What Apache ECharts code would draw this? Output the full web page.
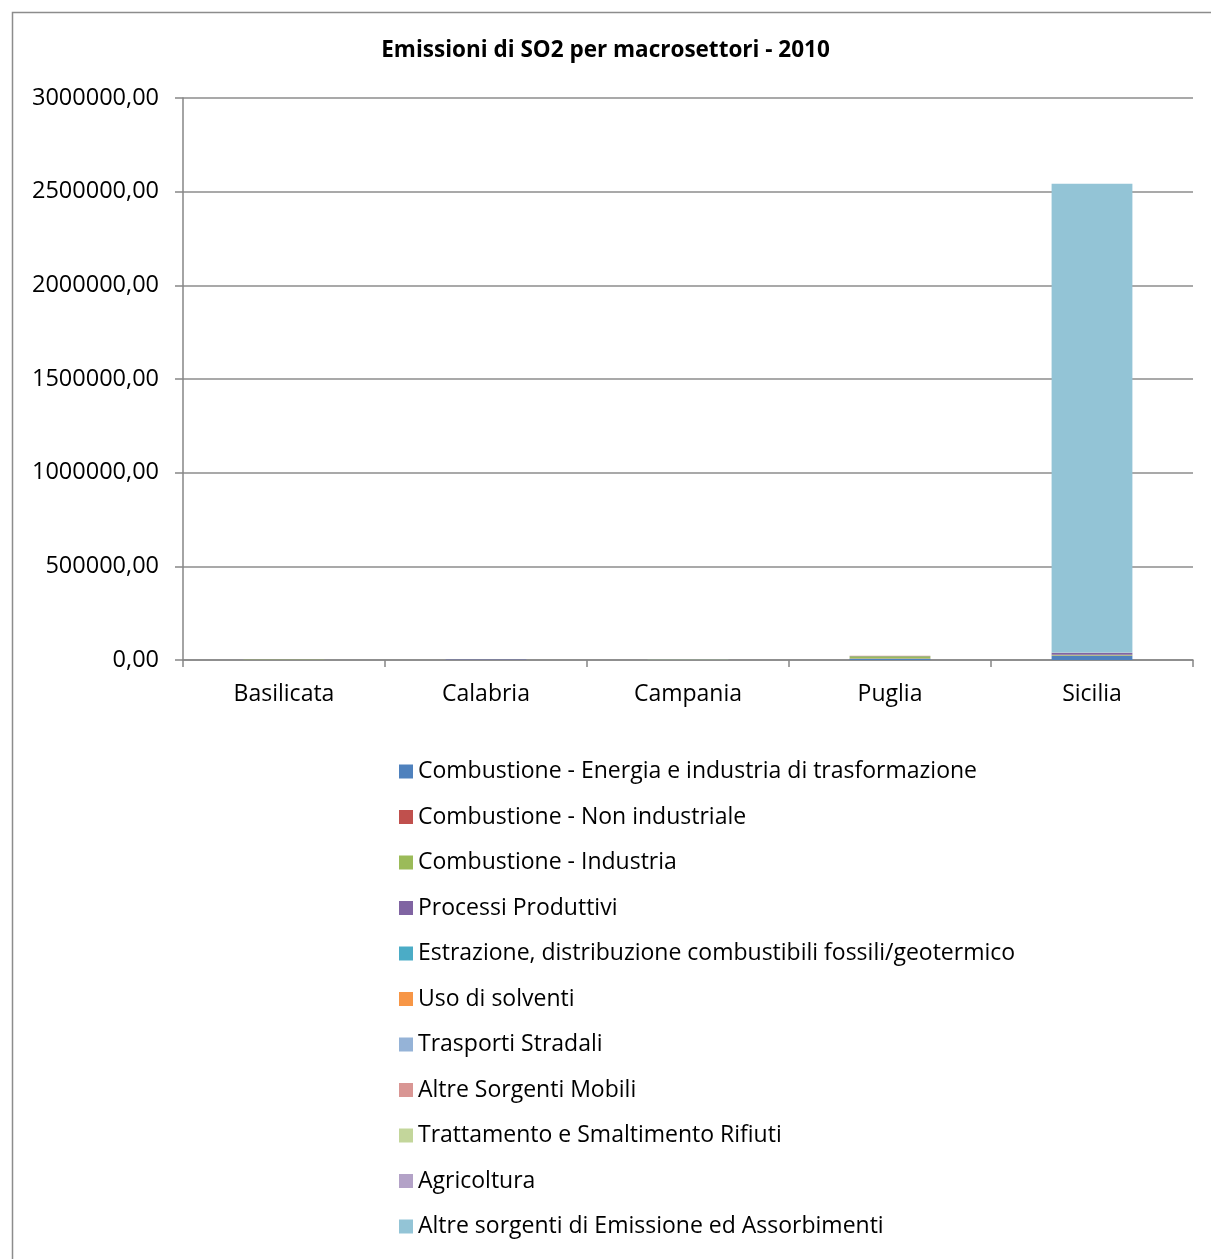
<!DOCTYPE html>
<html>
<head>
<meta charset="utf-8">
<script src="https://cdn.jsdelivr.net/npm/echarts@6/dist/echarts.min.js"></script>
<style>
  html, body { margin: 0; padding: 0; background: #ffffff; }
  #chart { width: 1211px; height: 1259px; }
</style>
</head>
<body>
<div id="chart"></div>
<script>
// Regions (categories on the x axis)
const regions = ['Basilicata', 'Calabria', 'Campania', 'Puglia', 'Sicilia'];

// Macrosector names (legend order = stacking order, bottom to top)
const sectors = [
  'Combustione - Energia e industria di trasformazione',
  'Combustione - Non industriale',
  'Combustione - Industria',
  'Processi Produttivi',
  'Estrazione, distribuzione combustibili fossili/geotermico',
  'Uso di solventi',
  'Trasporti Stradali',
  'Altre Sorgenti Mobili',
  'Trattamento e Smaltimento Rifiuti',
  'Agricoltura',
  'Altre sorgenti di Emissione ed Assorbimenti'
];

// SO2 emissions per region, one array per macrosector
const energia      = [400, 900, 1200, 7000, 23000];
const nonIndustr   = [100, 300, 600, 400, 1500];
const industria    = [300, 800, 1500, 13000, 3500];
const processi     = [200, 400, 300, 1500, 10000];
const estrazione   = [0, 0, 0, 0, 300];
const solventi     = [0, 0, 0, 0, 0];
const trasporti    = [30, 60, 120, 90, 100];
const altreMobili  = [100, 400, 900, 1000, 2000];
const rifiuti      = [10, 40, 100, 300, 100];
const agricoltura  = [0, 0, 0, 0, 0];
const altreSorg    = [0, 0, 0, 0, 2502000];

// Y axis tick values
const yTicks = [0, 500000, 1000000, 1500000, 2000000, 2500000, 3000000];

const seriesValues = [energia, nonIndustr, industria, processi, estrazione, solventi,
  trasporti, altreMobili, rifiuti, agricoltura, altreSorg];

const colors = ['#4F81BD', '#C0504D', '#9BBB59', '#8064A2', '#4BACC6', '#F79646',
  '#95B3D7', '#D99694', '#C3D69B', '#B3A2C7', '#93C4D6'];

const FONT = '"Open Sans", "Noto Sans", "DejaVu Sans", sans-serif';

const chart = echarts.init(document.getElementById('chart'), null, { renderer: 'canvas' });

chart.setOption({
  animation: false,
  color: colors,
  textStyle: { fontFamily: FONT },
  title: {
    text: 'Emissioni di SO2 per macrosettori - 2010',
    left: 'center',
    top: 34,
    textStyle: { fontFamily: FONT, fontSize: 22.5, fontWeight: 'bold', color: '#000' }
  },
  graphic: [{
    type: 'rect',
    shape: { x: 12.5, y: 12.5, width: 1220, height: 1260 },
    style: { fill: 'none', stroke: '#8c8c8c', lineWidth: 1.5 },
    silent: true,
    z: -10
  }],
  grid: { left: 183, right: 18, top: 98, height: 562, containLabel: false },
  legend: {
    orient: 'vertical',
    left: 399,
    top: 760,
    padding: 0,
    itemWidth: 14,
    itemHeight: 14,
    itemGap: 22.5,
    icon: 'rect',
    textStyle: { fontFamily: FONT, fontSize: 23, color: '#000' },
    data: sectors
  },
  xAxis: {
    type: 'category',
    data: regions,
    axisLine: { lineStyle: { color: '#868686', width: 1.5 } },
    axisTick: { show: true, length: 7, alignWithLabel: false, lineStyle: { color: '#868686', width: 1.5 } },
    axisLabel: { color: '#000', fontSize: 23, fontFamily: FONT, margin: 23 }
  },
  yAxis: {
    type: 'value',
    min: yTicks[0],
    max: yTicks[yTicks.length - 1],
    interval: yTicks[1] - yTicks[0],
    axisLine: { show: true, lineStyle: { color: '#868686', width: 1.5 } },
    axisTick: { show: true, inside: false, length: 8, lineStyle: { color: '#868686', width: 1.5 } },
    splitLine: { lineStyle: { color: '#8c8c8c', width: 1.5 } },
    axisLabel: {
      color: '#000', fontSize: 23.5, fontFamily: FONT, margin: 24,
      formatter: v => v.toFixed(2).replace('.', ',')
    }
  },
  series: sectors.map((name, i) => ({
    name: name,
    type: 'bar',
    stack: 'total',
    barWidth: '40%',
    data: seriesValues[i],
    itemStyle: { color: colors[i] }
  }))
});
</script>
</body>
</html>
